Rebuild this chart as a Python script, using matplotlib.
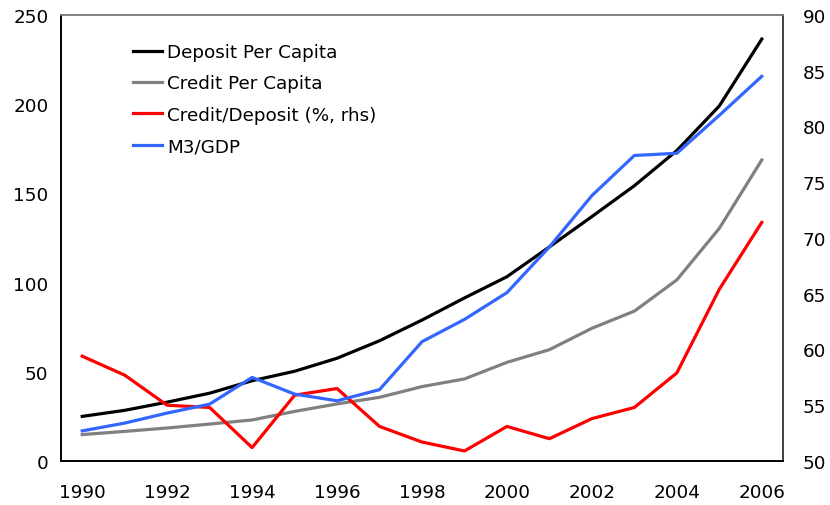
import matplotlib
matplotlib.use("Agg")
import matplotlib.pyplot as plt
from matplotlib.lines import Line2D

years = list(range(1990, 2007))
deposit_pc = [25.0, 28.4, 33.0, 38.0, 45.0, 50.3, 57.6, 67.4, 79.0, 91.4, 103.3, 120.0, 137.0, 154.3, 174.0, 199.0, 236.5]
credit_pc = [14.8, 16.6, 18.5, 20.7, 23.0, 27.8, 32.0, 35.7, 41.7, 46.0, 55.3, 62.4, 74.4, 84.0, 101.5, 130.4, 168.7]
credit_deposit = [59.4, 57.7, 55.0, 54.8, 51.2, 55.9, 56.5, 53.1, 51.7, 50.9, 53.1, 52.0, 53.8, 54.8, 57.9, 65.4, 71.4]
m3_gdp = [52.7, 53.4, 54.3, 55.1, 57.5, 56.0, 55.4, 56.4, 60.7, 62.7, 65.1, 69.2, 73.8, 77.4, 77.6, 81.0, 84.5]

labels = ["Deposit Per Capita", "Credit Per Capita", "Credit/Deposit (%, rhs)", "M3/GDP"]
colors = ["#000000", "#808080", "#FF0000", "#3366FF"]

fig = plt.figure(figsize=(8.3, 5.06), dpi=100)
ax = fig.add_axes([61/830, 1-462/506, (783-61)/830, (462-16)/506])
ax2 = ax.twinx()

lw = 2.3
ax.plot(years, deposit_pc, color=colors[0], lw=lw)
ax.plot(years, credit_pc, color=colors[1], lw=lw)
ax2.plot(years, credit_deposit, color=colors[2], lw=lw)
ax2.plot(years, m3_gdp, color=colors[3], lw=lw)

ax.set_xlim(1989.5, 2006.5)
ax.set_ylim(0, 250)
ax2.set_ylim(50, 90)
ax.set_xticks(years[::2])
ax.set_yticks(range(0, 251, 50))
ax2.set_yticks(range(50, 91, 5))

fs = 13.2
ax.tick_params(axis="y", length=0, labelsize=fs, pad=9)
ax.tick_params(axis="x", length=0, labelsize=fs, pad=16)
ax2.tick_params(axis="y", length=0, labelsize=fs, pad=14)

for a in (ax, ax2):
    a.spines["left"].set_color("#000000")
    a.spines["bottom"].set_color("#000000")
    a.spines["top"].set_color("#808080")
    a.spines["right"].set_color("#404040")
    for s in a.spines.values():
        s.set_linewidth(1.2)

handles = [Line2D([0], [0], color=c, lw=lw) for c in colors]
ax.legend(handles, labels, loc="upper left", bbox_to_anchor=(0.1, 0.937),
          frameon=False, fontsize=fs, handlelength=1.55, handletextpad=0.3,
          labelspacing=0.73, borderaxespad=0.0, borderpad=0.0)

fig.savefig("out.png", dpi=100)
